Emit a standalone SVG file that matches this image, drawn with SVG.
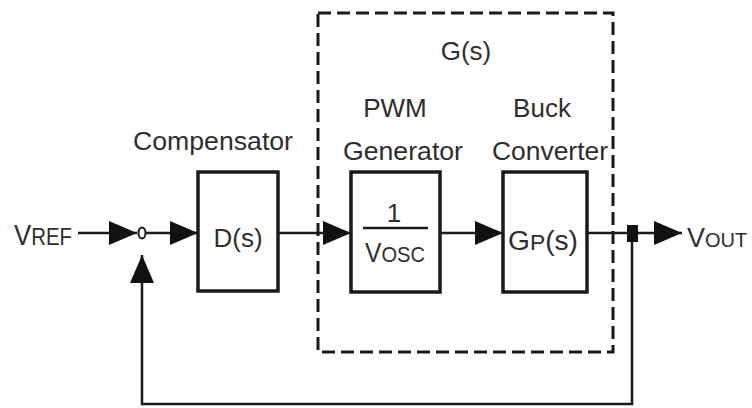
<svg xmlns="http://www.w3.org/2000/svg" width="752" height="408" viewBox="0 0 752 408">
<style>
text{font-family:"Liberation Sans",Arial,sans-serif;fill:#2e2e2e;}
.lbl{font-size:26px;text-anchor:middle;}
.blk{fill:#fff;stroke:#1a1a1a;stroke-width:3.5;}
.ln{fill:none;stroke:#1a1a1a;stroke-width:2.5;}
.dash{fill:none;stroke:#1a1a1a;stroke-width:3;stroke-dasharray:13 6;}
</style>
<defs>
<marker id="ah" viewBox="0 0 28 24" refX="28" refY="12" markerWidth="28" markerHeight="24" markerUnits="userSpaceOnUse" orient="auto">
<path d="M0,0 L28,12 L0,24 Z" fill="#111"/>
</marker>
</defs>
<rect width="752" height="408" fill="#fff"/>
<g id="gs-boundary">
<rect class="dash" x="318" y="13" width="295" height="339"/>
<text class="lbl" x="466" y="60" font-size="25">G(s)</text>
</g>
<g id="connectors">
<line class="ln" x1="78" y1="233" x2="137" y2="233" marker-end="url(#ah)"/>
<line class="ln" x1="146" y1="233" x2="198" y2="233" marker-end="url(#ah)"/>
<line class="ln" x1="278" y1="233" x2="351" y2="233" marker-end="url(#ah)"/>
<line class="ln" x1="440" y1="233" x2="503" y2="233" marker-end="url(#ah)"/>
<line class="ln" x1="587" y1="233" x2="682" y2="233" marker-end="url(#ah)"/>
<polyline class="ln" points="632,233 632,404 142,404 142,255" marker-end="url(#ah)"/>
<rect x="627" y="225" width="11" height="17" fill="#111"/>
</g>
<g id="vref">
<text x="14" y="245" font-size="29" textLength="58" lengthAdjust="spacingAndGlyphs">V<tspan font-size="23">REF</tspan></text>
</g>
<g id="sum">
<ellipse cx="142" cy="233" rx="3.5" ry="5.5" fill="#fff" stroke="#1a1a1a" stroke-width="2"/>
</g>
<g id="compensator">
<text class="lbl" x="213" y="150" textLength="160" lengthAdjust="spacingAndGlyphs">Compensator</text>
<rect class="blk" x="198" y="172" width="80" height="119"/>
<text class="lbl" x="238" y="247" font-size="27">D(s)</text>
</g>
<g id="pwm">
<text class="lbl" x="395" y="117">PWM</text>
<text class="lbl" x="403" y="160" textLength="120" lengthAdjust="spacingAndGlyphs">Generator</text>
<rect class="blk" x="351" y="172" width="89" height="120"/>
<text class="lbl" x="394" y="222" font-size="28">1</text>
<line x1="363" y1="228" x2="428" y2="228" stroke="#1a1a1a" stroke-width="2.5"/>
<text x="365" y="262" font-size="27" textLength="60" lengthAdjust="spacingAndGlyphs">V<tspan font-size="22">OSC</tspan></text>
</g>
<g id="buck">
<text class="lbl" x="542" y="117">Buck</text>
<text class="lbl" x="550" y="160" textLength="116" lengthAdjust="spacingAndGlyphs">Converter</text>
<rect class="blk" x="503" y="172" width="84" height="120"/>
<text x="508" y="250" font-size="27" textLength="70" lengthAdjust="spacingAndGlyphs">G<tspan font-size="22">P</tspan>(s)</text>
</g>
<g id="vout">
<text x="687" y="247" font-size="27">V<tspan font-size="20">OUT</tspan></text>
</g>
</svg>
